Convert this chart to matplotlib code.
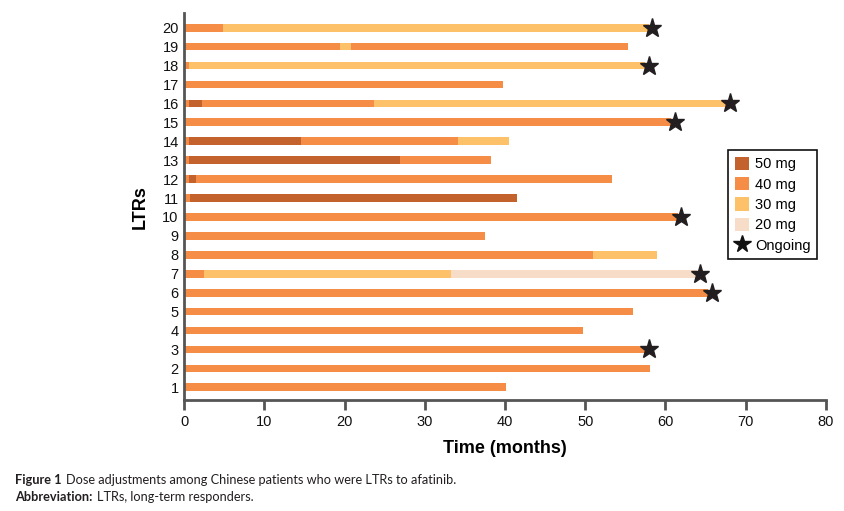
import matplotlib
matplotlib.use("Agg")
import matplotlib.pyplot as plt
from matplotlib.patches import Patch
from matplotlib.lines import Line2D

# ---- data: dose segments per patient (dose in mg, end time in months) ----
patients = list(range(1, 21))
seg_doses = {
    1: [40], 2: [40], 3: [40], 4: [40], 5: [40], 6: [40],
    7: [40, 30, 20], 8: [40, 30], 9: [40], 10: [40],
    11: [40, 50], 12: [40, 50, 40], 13: [40, 50, 40], 14: [40, 50, 40, 30],
    15: [40], 16: [40, 50, 40, 30], 17: [40], 18: [40, 30], 19: [40, 30, 40], 20: [40, 30],
}
seg_ends = {
    1: [40.1], 2: [58.1], 3: [57.5], 4: [49.7], 5: [56.0], 6: [65.3],
    7: [2.5, 33.3, 63.9], 8: [51.0, 58.9], 9: [37.5], 10: [61.6],
    11: [0.7, 41.5], 12: [0.6, 1.45, 53.4], 13: [0.6, 26.9, 38.3], 14: [0.6, 14.5, 34.1, 40.5],
    15: [60.7], 16: [0.6, 2.25, 23.7, 67.6], 17: [39.7], 18: [0.6, 57.5], 19: [19.4, 20.8, 55.4], 20: [4.8, 57.9],
}
ongoing_patients = [3, 6, 7, 10, 15, 16, 18, 20]
ongoing_time = [58.0, 65.8, 64.3, 62.0, 61.2, 68.1, 57.9, 58.3]

dose_labels = ["50 mg", "40 mg", "30 mg", "20 mg"]
dose_values = [50, 40, 30, 20]
dose_colors = {50: "#C4622D", 40: "#F58D46", 30: "#FDC16A", 20: "#F7DCC8"}

x_ticks = [0, 10, 20, 30, 40, 50, 60, 70, 80]

plt.rcParams["font.family"] = ["Liberation Sans", "DejaVu Sans"]

fig = plt.figure(figsize=(8.45, 5.11), dpi=100)
ax = fig.add_axes([0.2181, 0.2172, 0.9772 - 0.2181, 0.974 - 0.2172])

bar_h = 0.41
for p in patients:
    start = 0.0
    for d, e in zip(seg_doses[p], seg_ends[p]):
        ax.barh(p, e - start, left=start, height=bar_h, color=dose_colors[d],
                edgecolor="none", zorder=2)
        start = e

ax.plot(ongoing_time, ongoing_patients, linestyle="none", marker="*",
        markersize=14, color="#231F20", zorder=3, clip_on=False)

ax.set_xlim(0, 80)
ax.set_ylim(0.33, 20.76)
ax.set_xticks(x_ticks)
ax.set_yticks(patients)
ax.set_yticklabels([str(p) for p in patients])

for s in ["top", "right"]:
    ax.spines[s].set_visible(False)
for s in ["left", "bottom"]:
    ax.spines[s].set_color("#555555")
    ax.spines[s].set_linewidth(2.0)

ax.tick_params(axis="x", direction="out", length=7, width=2.0, color="#555555",
               labelsize=10.5, pad=4, labelcolor="#111111")
ax.tick_params(axis="y", length=0, labelsize=10.5, pad=4, labelcolor="#111111")

ax.set_xlabel("Time (months)", fontsize=13, fontweight="bold", labelpad=8)
ax.set_ylabel("LTRs", fontsize=13, fontweight="bold", labelpad=10)

handles = [Patch(facecolor=dose_colors[v], edgecolor="none", label=l)
           for v, l in zip(dose_values, dose_labels)]
handles.append(Line2D([], [], linestyle="none", marker="*", markersize=13,
                      color="#111111", label="Ongoing"))
leg = ax.legend(handles=handles, loc="upper left", bbox_to_anchor=(0.848, 0.646),
                frameon=True, fancybox=False, framealpha=1, edgecolor="#111111",
                fontsize=10.5, handlelength=1.0, handleheight=1.0, handletextpad=0.4,
                labelspacing=0.4, borderpad=0.45, borderaxespad=0)
leg.get_frame().set_linewidth(1.2)

# ---- caption (bold lead-in followed by regular text) ----
renderer = fig.canvas.get_renderer()
cap_font = ["Lato", "DejaVu Sans"]
cap_size = 9.2
def caption(y, bold, rest):
    t = fig.text(0.018, y, bold, fontsize=cap_size, fontweight="bold", color="#231F20",
                 family=cap_font, ha="left", va="baseline")
    bb = t.get_window_extent(renderer=renderer)
    x1 = bb.x1 / fig.bbox.width + 0.005
    fig.text(x1, y, rest, fontsize=cap_size, color="#231F20", family=cap_font,
             ha="left", va="baseline")

caption(0.053, "Figure 1", "Dose adjustments among Chinese patients who were LTRs to afatinib.")
caption(0.020, "Abbreviation:", "LTRs, long-term responders.")

fig.savefig("out.png", dpi=100)
